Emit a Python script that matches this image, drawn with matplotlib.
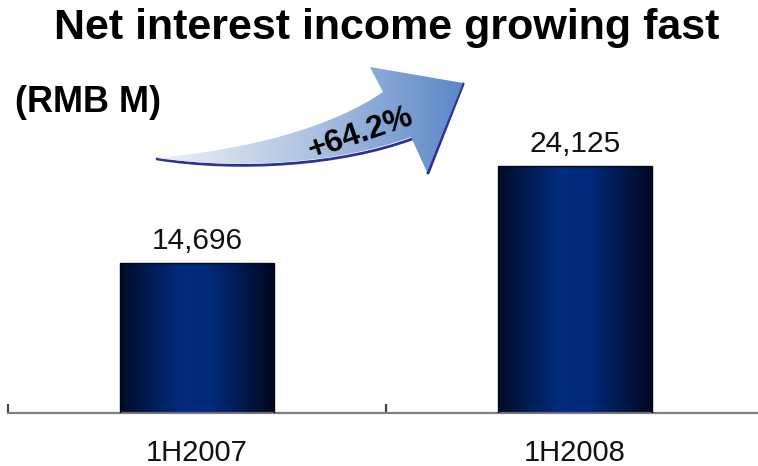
import numpy as np
import matplotlib
matplotlib.use("Agg")
import matplotlib.pyplot as plt
from matplotlib.path import Path
from matplotlib.patches import PathPatch
from matplotlib.colors import LinearSegmentedColormap

# Net interest income, RMB millions
categories = ["1H2007", "1H2008"]
income = [14696, 24125]
value_labels = ["14,696", "24,125"]
growth_label = "+64.2%"
title = "Net interest income growing fast"
unit_label = "(RMB M)"

plt.rcParams["font.family"] = ["Liberation Sans", "DejaVu Sans"]

W, H = 758, 466
fig = plt.figure(figsize=(W / 100, H / 100), dpi=100)
fig.patch.set_facecolor("white")

# main bar axes: x from -0.5 (left tick) to 1.5, baseline near the bottom
ax = fig.add_axes([8 / W, 53 / H, 756 / W, 353 / H])
ax.set_facecolor("none")

x = np.arange(len(categories))
bars = ax.bar(x, income, width=0.405, facecolor="none",
              edgecolor="#03061a", linewidth=1.0, zorder=3)

# horizontal shading across each bar: dark edges, brighter navy centre
bar_cmap = LinearSegmentedColormap.from_list(
    "bar_shade",
    [(0.0, "#000a26"), (0.16, "#001a4c"), (0.40, "#022b7e"),
     (0.60, "#012979"), (0.84, "#001544"), (1.0, "#000820")])
grad = np.linspace(0, 1, 256).reshape(1, -1)
for b in bars:
    x0, w, h = b.get_x(), b.get_width(), b.get_height()
    im = ax.imshow(grad, cmap=bar_cmap, extent=[x0, x0 + w, 0, h],
                   aspect="auto", interpolation="bilinear", zorder=2)
    im.set_clip_path(b)

ax.set_xlim(-0.5, 1.5)
ax.set_ylim(0, 34480)

for side in ("top", "right", "left"):
    ax.spines[side].set_visible(False)
ax.spines["bottom"].set_color("#7f7f7f")
ax.spines["bottom"].set_linewidth(1.6)
ax.yaxis.set_visible(False)
ax.set_xticks(x)
ax.set_xticklabels([])
ax.tick_params(axis="x", which="major", length=0)
ax.set_xticks([-0.5, 0.5, 1.5], minor=True)
ax.tick_params(axis="x", which="minor", direction="in", length=6.5,
               width=1.6, color="#444444")

# value labels above bars
for b, lab in zip(bars, value_labels):
    ax.annotate(lab, xy=(b.get_x() + b.get_width() / 2, b.get_height()),
                xytext=(0, 10), textcoords="offset points",
                ha="center", va="baseline", fontsize=21.5, color="#111111")

# category labels under the axis
for xi, cat in zip(x, categories):
    ax.annotate(cat, xy=(xi, 0), xytext=(0, -34.6), textcoords="offset points",
                ha="center", va="baseline", fontsize=21, color="#111111",
                annotation_clip=False)

# titles
fig.text(387 / W, 1 - 39 / H, title, ha="center", va="baseline",
         fontsize=31, fontweight="bold", color="black")
fig.text(15 / W, 1 - 112 / H, unit_label, ha="left", va="baseline",
         fontsize=26, fontweight="bold", color="black")

# growth arrow drawn in pixel space on an overlay
ov = fig.add_axes([0, 0, 1, 1])
ov.set_xlim(0, W)
ov.set_ylim(H, 0)
ov.axis("off")
ov.patch.set_alpha(0)

verts = [
    (157, 158),                                   # tail tip
    (250, 149), (330, 128), (383, 92),            # upper body edge
    (370, 67),                                    # upper barb
    (463, 83),                                    # head tip
    (427, 172),                                   # lower barb
    (411, 137),                                   # lower notch
    (340, 163), (240, 170), (157, 158),           # lower body edge
    (157, 158),
]
codes = [Path.MOVETO,
         Path.CURVE4, Path.CURVE4, Path.CURVE4,
         Path.LINETO, Path.LINETO, Path.LINETO, Path.LINETO,
         Path.CURVE4, Path.CURVE4, Path.CURVE4,
         Path.CLOSEPOLY]
arrow_path = Path(verts, codes)

# dark rim along lower body edge and right side of the head
rim = Path([(463, 84), (428, 173)], [Path.MOVETO, Path.LINETO])
ov.add_patch(PathPatch(rim, facecolor="none", edgecolor="#2e3192",
                       linewidth=2.2, capstyle="round", zorder=4))
low_rim = Path([(412, 139), (341, 165), (240, 172), (157, 159)],
               [Path.MOVETO, Path.CURVE4, Path.CURVE4, Path.CURVE4])
ov.add_patch(PathPatch(low_rim, facecolor="none", edgecolor="#2e3192",
                       linewidth=2.0, capstyle="round", zorder=4))

arrow_patch = PathPatch(arrow_path, facecolor="none", edgecolor="none", zorder=5)
ov.add_patch(arrow_patch)
arrow_cmap = LinearSegmentedColormap.from_list(
    "arrow_shade", [(0.0, "#eef2f8"), (0.5, "#aec2e2"), (1.0, "#5a87c8")])
ag = ov.imshow(grad, cmap=arrow_cmap, extent=[157, 465, 175, 65],
               aspect="auto", interpolation="bilinear", zorder=5)
ag.set_clip_path(arrow_patch)
ov.set_xlim(0, W)
ov.set_ylim(H, 0)

ov.text(361, 134, growth_label, rotation=19, rotation_mode="anchor",
        ha="center", va="center", fontsize=23, fontweight="bold",
        color="black", zorder=6)

fig.savefig("out.png", dpi=100)
